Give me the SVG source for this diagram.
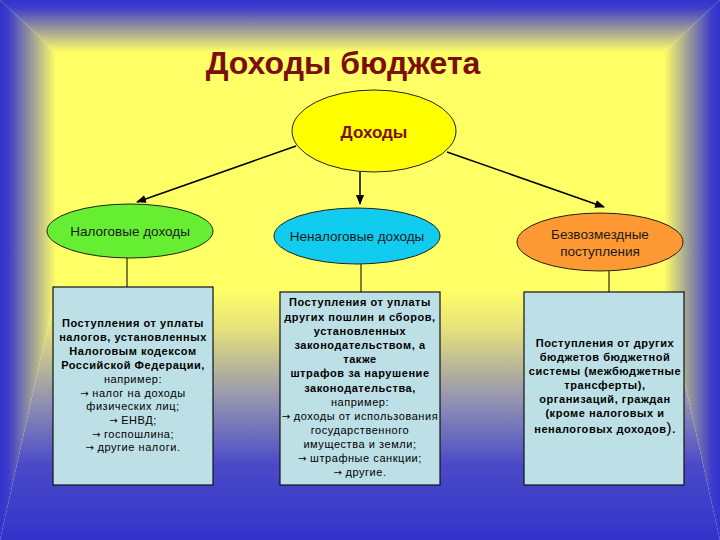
<svg xmlns="http://www.w3.org/2000/svg" width="720" height="540" viewBox="0 0 720 540">
<defs>
<linearGradient id="gTop" gradientUnits="userSpaceOnUse" x1="0" y1="0" x2="0" y2="52">
<stop offset="0" stop-color="#3333cc"/><stop offset="0.15" stop-color="#3d3dcb"/><stop offset="1" stop-color="#ffff66"/>
</linearGradient>
<linearGradient id="gLeft" gradientUnits="userSpaceOnUse" x1="0" y1="0" x2="56" y2="0">
<stop offset="0" stop-color="#3333cc"/><stop offset="0.15" stop-color="#3d3dcb"/><stop offset="1" stop-color="#ffff66"/>
</linearGradient>
<linearGradient id="gRight" gradientUnits="userSpaceOnUse" x1="720" y1="0" x2="664" y2="0">
<stop offset="0" stop-color="#3333cc"/><stop offset="0.15" stop-color="#3d3dcb"/><stop offset="1" stop-color="#ffff66"/>
</linearGradient>
<linearGradient id="gBottom" gradientUnits="userSpaceOnUse" x1="0" y1="290" x2="0" y2="540">
<stop offset="0" stop-color="#ffff66"/><stop offset="0.15" stop-color="#e6e27a"/><stop offset="0.45" stop-color="#9090b2"/><stop offset="0.7" stop-color="#4a4ac8"/><stop offset="1" stop-color="#3333cc"/>
</linearGradient>
<marker id="arr" markerWidth="10" markerHeight="8" refX="9" refY="4" orient="auto" markerUnits="userSpaceOnUse">
<path d="M0,0 L10,4 L0,8 Z" fill="#000"/>
</marker>
<style>
.ell{stroke:#222;stroke-width:1}
.box{fill:#bde0e6;stroke:#111;stroke-width:1.2}
.lbl{font-family:"Liberation Sans",Arial,sans-serif;font-size:13.5px;fill:#1a1a1a;text-anchor:middle}
.bt{font-family:"Liberation Sans",Arial,sans-serif;font-size:11px;letter-spacing:0.55px;fill:#000;text-anchor:middle}
.b{font-weight:bold}
.a{font-family:"DejaVu Sans",sans-serif;font-size:10px;letter-spacing:0}
.con{stroke:#000;stroke-width:1.5;fill:none}
.ln{stroke:#000;stroke-width:1;fill:none}
</style>
</defs>
<g id="background">
<rect x="55" y="50" width="610" height="242" fill="#ffff66"/>
<polygon points="0,540 56,290 664,290 720,540" fill="url(#gBottom)"/>
<polygon points="0,0 720,0 664,52 56,52" fill="url(#gTop)"/>
<polygon points="0,0 56,52 56,290 0,540" fill="url(#gLeft)"/>
<polygon points="720,0 664,52 664,290 720,540" fill="url(#gRight)"/>
</g>
<text id="title" x="343" y="74" font-family="'Liberation Sans',Arial,sans-serif" font-size="32" font-weight="bold" fill="#7b0f0f" text-anchor="middle">Доходы бюджета</text>
<g id="connectors">
<line class="con" x1="296" y1="146" x2="137" y2="202" marker-end="url(#arr)"/>
<line class="con" x1="360" y1="172" x2="360" y2="204" marker-end="url(#arr)"/>
<line class="con" x1="447" y1="152" x2="604" y2="207" marker-end="url(#arr)"/>
<line class="ln" x1="127" y1="258" x2="127" y2="287"/>
<line class="ln" x1="361" y1="264" x2="361" y2="292"/>
<line class="ln" x1="609" y1="271" x2="609" y2="292"/>
</g>
<g id="n-income">
<ellipse class="ell" cx="374" cy="131" rx="82" ry="41" fill="#ffff00"/>
<text x="374" y="138" font-family="'Liberation Sans',Arial,sans-serif" font-size="17" font-weight="bold" fill="#7b0f0f" text-anchor="middle">Доходы</text>
</g>
<g id="n-tax">
<ellipse class="ell" cx="130" cy="231" rx="83" ry="27" fill="#66ee33"/>
<text class="lbl" x="130" y="236">Налоговые доходы</text>
</g>
<g id="n-nontax">
<ellipse class="ell" cx="357" cy="236" rx="83" ry="28" fill="#11ccee"/>
<text class="lbl" x="357" y="241">Неналоговые доходы</text>
</g>
<g id="n-free">
<ellipse class="ell" cx="600" cy="242" rx="83" ry="29" fill="#ff9933"/>
<text class="lbl" x="600" y="239">Безвозмездные</text>
<text class="lbl" x="600" y="256">поступления</text>
</g>
<g id="box-tax">
<rect class="box" x="53" y="287" width="160" height="198"/>
<text class="bt b" x="133" y="327">Поступления от уплаты</text>
<text class="bt b" x="133" y="341">налогов, установленных</text>
<text class="bt b" x="133" y="355">Налоговым кодексом</text>
<text class="bt b" x="133" y="369">Российской Федерации,</text>
<text class="bt" x="133" y="383">например:</text>
<text class="bt" x="133" y="397"><tspan class="a">→</tspan> налог на доходы</text>
<text class="bt" x="133" y="410">физических лиц;</text>
<text class="bt" x="133" y="424"><tspan class="a">→</tspan> ЕНВД;</text>
<text class="bt" x="133" y="438"><tspan class="a">→</tspan> госпошлина;</text>
<text class="bt" x="133" y="451"><tspan class="a">→</tspan> другие налоги.</text>
</g>
<g id="box-nontax">
<rect class="box" x="280" y="292" width="160" height="193"/>
<text class="bt b" x="360" y="306">Поступления от уплаты</text>
<text class="bt b" x="360" y="321">других пошлин и сборов,</text>
<text class="bt b" x="360" y="335">установленных</text>
<text class="bt b" x="360" y="349">законодательством, а</text>
<text class="bt b" x="360" y="363">также</text>
<text class="bt b" x="360" y="377">штрафов за нарушение</text>
<text class="bt b" x="360" y="392">законодательства,</text>
<text class="bt" x="360" y="406">например:</text>
<text class="bt" x="360" y="420"><tspan class="a">→</tspan> доходы от использования</text>
<text class="bt" x="360" y="434">государственного</text>
<text class="bt" x="360" y="448">имущества и земли;</text>
<text class="bt" x="360" y="462"><tspan class="a">→</tspan> штрафные санкции;</text>
<text class="bt" x="360" y="476"><tspan class="a">→</tspan> другие.</text>
</g>
<g id="box-free">
<rect class="box" x="524" y="292" width="160" height="193"/>
<text class="bt b" x="605" y="347">Поступления от других</text>
<text class="bt b" x="605" y="361">бюджетов бюджетной</text>
<text class="bt b" x="605" y="375">системы (межбюджетные</text>
<text class="bt b" x="605" y="389">трансферты),</text>
<text class="bt b" x="605" y="403">организаций, граждан</text>
<text class="bt b" x="605" y="417">(кроме налоговых и</text>
<text class="bt b" x="605" y="433">неналоговых доходов<tspan font-size="15" font-weight="normal">)</tspan>.</text>
</g>
</svg>
